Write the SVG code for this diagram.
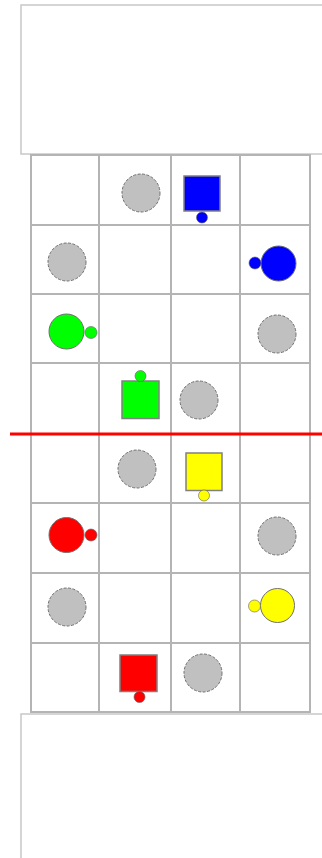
<svg xmlns="http://www.w3.org/2000/svg" width="322" height="858" viewBox="0 0 322 858">
<style>
.box{fill:#fff;stroke:#c8c8c8;stroke-width:1.5}
.grid{stroke:#b4b4b4;stroke-width:2;fill:none}
.gray{fill:#c0c0c0;stroke:#707070;stroke-width:1;stroke-dasharray:3 1.5}
.pc{stroke:#707070;stroke-width:1}
.sq{stroke:#808080;stroke-width:1.5}
.dot{stroke:#606060;stroke-width:0.6}
</style>
<rect width="322" height="858" fill="#fff"/>
<g id="top-box"><rect class="box" x="21" y="5" width="310" height="149"/></g>
<g id="bottom-box"><rect class="box" x="21" y="714" width="310" height="160"/></g>
<g id="grid" class="grid">
<path d="M31 154V713M99 154V713M171 154V713M240 154V713M310 154V713"/>
<path d="M31 155H310M31 225H310M31 294H310M31 363H310M31 434H310M31 503H310M31 573H310M31 643H310M31 712H310"/>
</g>
<g id="row1">
<g id="g1"><circle class="gray" cx="141" cy="193" r="19"/></g>
<g id="blue-square"><rect class="sq" x="184" y="176" width="36" height="35" fill="#0000ff"/><circle class="dot" cx="202" cy="217.5" r="5.5" fill="#0000ff"/></g>
</g>
<g id="row2">
<g id="g2"><circle class="gray" cx="67" cy="262" r="19"/></g>
<g id="blue-circle"><circle class="pc" cx="278.5" cy="263.5" r="17.5" fill="#0000ff"/><circle class="dot" cx="255" cy="263" r="6" fill="#0000ff"/></g>
</g>
<g id="row3">
<g id="green-circle"><circle class="pc" cx="66.5" cy="331.5" r="17.5" fill="#00ff00"/><circle class="dot" cx="91" cy="332.5" r="6" fill="#00ff00"/></g>
<g id="g3"><circle class="gray" cx="277" cy="334" r="19"/></g>
</g>
<g id="row4">
<g id="green-square"><rect class="sq" x="122" y="381" width="37" height="37.5" fill="#00ff00"/><circle class="dot" cx="140.5" cy="376" r="5.5" fill="#00ff00"/></g>
<g id="g4"><circle class="gray" cx="199" cy="400" r="19"/></g>
</g>
<g id="row5">
<g id="g5"><circle class="gray" cx="137" cy="469" r="19"/></g>
<g id="yellow-square"><rect class="sq" x="186" y="453" width="36" height="37.5" fill="#ffff00"/><circle class="dot" cx="204" cy="495.5" r="5.5" fill="#ffff00"/></g>
</g>
<g id="row6">
<g id="red-circle"><circle class="pc" cx="66.5" cy="535" r="17.5" fill="#ff0000"/><circle class="dot" cx="91" cy="535" r="6" fill="#ff0000"/></g>
<g id="g6"><circle class="gray" cx="277" cy="536" r="19"/></g>
</g>
<g id="row7">
<g id="g7"><circle class="gray" cx="67" cy="607" r="19"/></g>
<g id="yellow-circle"><circle class="pc" cx="277.5" cy="605.5" r="17" fill="#ffff00"/><circle class="dot" cx="254.5" cy="606" r="6" fill="#ffff00"/></g>
</g>
<g id="row8">
<g id="red-square"><rect class="sq" x="120" y="655" width="37" height="36.5" fill="#ff0000"/><circle class="dot" cx="139.5" cy="697" r="5.5" fill="#ff0000"/></g>
<g id="g8"><circle class="gray" cx="203" cy="673" r="19"/></g>
</g>
<g id="connectors">
<line x1="10" y1="434" x2="322" y2="434" stroke="#ff0000" stroke-width="3"/>
</g>
</svg>
